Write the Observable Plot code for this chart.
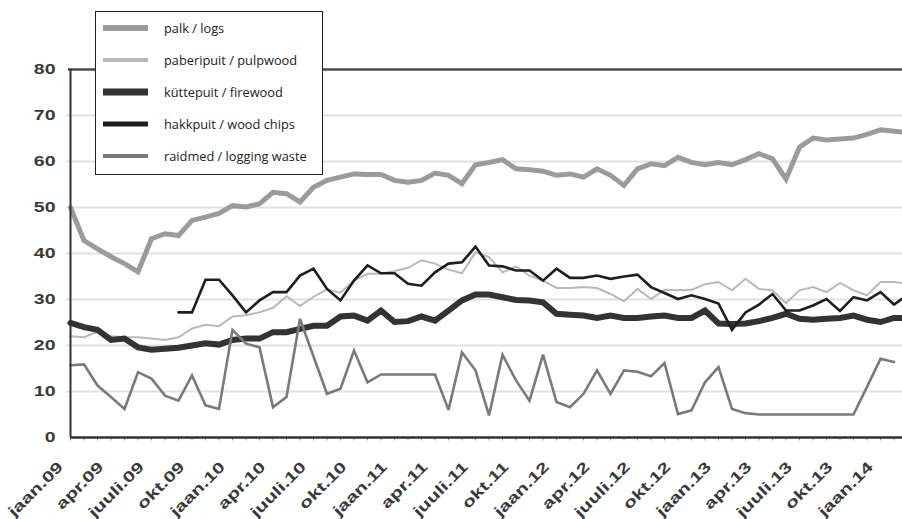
<!DOCTYPE html>
<html>
<head>
<meta charset="utf-8">
<script src="https://cdn.jsdelivr.net/npm/d3@7"></script>
<script src="https://cdn.jsdelivr.net/npm/@observablehq/plot@0.6"></script>
<style>
  html, body { margin: 0; padding: 0; background: #fff; overflow: hidden; }
  #chart { position: relative; width: 902px; height: 519px; }
  #chart svg { overflow: hidden; }
  .legend {
    position: absolute; left: 95px; top: 11px; width: 228px; height: 164px;
    box-sizing: border-box; border: 1px solid #222; background: #fff;
    font-family: "Open Sans", sans-serif; font-size: 12.8px; color: #222;
  }
  .legend .row { position: absolute; left: 0; height: 20px; display: flex; align-items: center; }
  .legend svg { margin-left: 7px; margin-right: 16px; }
</style>
</head>
<body>
<div id="chart"></div>
<script>
// Monthly index 0 = jaan.09 ... 62 = märts.14
const monthCount = 63;

// Price series (EUR per m³), one value per month
const palk = [50, 42.8, 41, 39.3, 37.8, 36, 43.2, 44.3, 43.9, 47.2, 47.9, 48.7,
  50.4, 50.1, 50.8, 53.3, 53, 51.2, 54.4, 55.9, 56.6, 57.3, 57.2, 57.2,
  55.9, 55.5, 55.9, 57.5, 57, 55.2, 59.3, 59.8, 60.4, 58.4, 58.2, 57.9,
  57, 57.3, 56.6, 58.4, 57, 54.8, 58.4, 59.5, 59.1, 60.9, 59.8, 59.3,
  59.8, 59.3, 60.4, 61.7, 60.6, 56.2, 63.1, 65.1, 64.7, 64.9, 65.1, 65.9,
  66.9, 66.6, 66.3];
const paberipuit = [22, 21.8, 23, 22, 21.8, 21.8, 21.5, 21.2, 21.8, 23.7, 24.5, 24.2,
  26.3, 26.6, 27.2, 28.2, 30.7, 28.6, 30.6, 32.2, 31.5, 34.1, 35.6, 35.6,
  36.2, 36.9, 38.5, 37.8, 36.5, 35.7, 40.3, 39.2, 35.9, 37.2, 35.2, 34.1,
  32.5, 32.5, 32.7, 32.5, 31.2, 29.6, 32.3, 30.1, 32.1, 32, 32.1, 33.3,
  33.8, 32, 34.5, 32.3, 32, 29.2, 32, 32.7, 31.6, 33.6, 32, 30.9,
  33.8, 33.8, 33.4];
const kyttepuit = [24.9, 24, 23.4, 21.2, 21.5, 19.6, 19.1, 19.3, 19.5, 20, 20.5, 20.2,
  21.2, 21.5, 21.5, 22.9, 22.9, 23.6, 24.3, 24.3, 26.3, 26.5, 25.4, 27.6,
  25.1, 25.3, 26.3, 25.4, 27.6, 29.8, 31.1, 31.1, 30.5, 29.9, 29.8, 29.4,
  26.9, 26.7, 26.5, 26, 26.5, 26, 26, 26.3, 26.5, 26, 26, 27.6,
  24.8, 24.7, 24.8, 25.3, 26, 26.9, 25.8, 25.6, 25.8, 26, 26.5, 25.6,
  25.1, 26, 26];
const hakkpuit = [null, null, null, null, null, null, null, null, 27.2, 27.2, 34.3, 34.3,
  30.9, 27.2, 29.8, 31.6, 31.6, 35.2, 36.7, 32.3, 29.8, 34.1, 37.4, 35.7,
  35.7, 33.4, 33, 35.9, 37.8, 38.1, 41.5, 37.4, 37.2, 36.3, 36.3, 34.1,
  36.7, 34.7, 34.7, 35.2, 34.5, 35, 35.4, 32.7, 31.4, 30.1, 30.9, 30.1,
  29.1, 23.4, 27.2, 28.9, 31.2, 27.6, 27.6, 28.7, 30.1, 27.5, 30.5, 29.8,
  31.6, 28.9, 31];
const raidmed = [15.7, 15.9, 11.3, 8.8, 6.2, 14.2, 12.8, 9.1, 8, 13.5, 7, 6.2,
  23.4, 20.4, 19.6, 6.6, 8.8, 25.8, 17.6, 9.5, 10.6, 18.9, 12, 13.7,
  13.7, 13.7, 13.7, 13.7, 6, 18.5, 14.6, 4.8, 18, 12.4, 8, 18,
  7.7, 6.6, 9.5, 14.6, 9.5, 14.6, 14.3, 13.3, 16.2, 5.1, 5.9, 12,
  15.3, 6.2, 5.3, 5, 5, 5, 5, 5, 5, 5, 5, 11,
  17.1, 16.4, null];

// Series names as shown in the legend
const seriesNames = ["palk / logs", "paberipuit / pulpwood", "küttepuit / firewood",
  "hakkpuit / wood chips", "raidmed / logging waste"];

// Axis ticks
const yTicks = [0, 10, 20, 30, 40, 50, 60, 70, 80];
const xTickMonths = [0, 3, 6, 9, 12, 15, 18, 21, 24, 27, 30, 33, 36, 39, 42, 45, 48, 51, 54, 57, 60];
const xTickLabels = ["jaan.09", "apr.09", "juuli.09", "okt.09", "jaan.10", "apr.10", "juuli.10",
  "okt.10", "jaan.11", "apr.11", "juuli.11", "okt.11", "jaan.12", "apr.12", "juuli.12",
  "okt.12", "jaan.13", "apr.13", "juuli.13", "okt.13", "jaan.14"];

// Line styles: chart stroke and legend swatch
const styles = [
  {stroke: "#9b9b9b", width: 5, swatch: 6},
  {stroke: "#b9b9b9", width: 2, swatch: 4},
  {stroke: "#333333", width: 6, swatch: 7},
  {stroke: "#1e1e1e", width: 2.6, swatch: 5},
  {stroke: "#7a7a7a", width: 2.6, swatch: 4}
];

const allValues = [palk, paberipuit, kyttepuit, hakkpuit, raidmed];
const series = allValues.map((vals, k) => ({
  name: seriesNames[k],
  rows: vals.map((v, i) => ({month: i, value: v}))
}));

const months = d3.range(monthCount);
const gridValues = yTicks.filter(d => d > 0 && d < 80);

const plot = Plot.plot({
  width: 902,
  height: 519,
  marginTop: 69,
  marginBottom: 82,
  marginLeft: 70,
  marginRight: 0,
  x: {domain: [0, monthCount - 1], range: [70, 907], axis: null},
  y: {domain: [0, 80], axis: null},
  style: {background: "#fff", fontFamily: "'Liberation Sans', Arial, sans-serif"},
  marks: [
    // horizontal gridlines, poking slightly left of the axis
    Plot.ruleY(gridValues, {y: d => d, x1: -0.3, x2: monthCount, stroke: "#e1e1e1", strokeWidth: 2}),
    // top border at 80
    Plot.ruleY([80], {x1: -0.15, x2: monthCount, stroke: "#4a4a4a", strokeWidth: 2.5}),
    // monthly tick marks under the baseline
    Plot.ruleX(months, {x: d => d, y1: 0, y2: -0.75, stroke: "#999", strokeWidth: 1}),
    // series lines
    ...series.map((s, k) => Plot.line(s.rows, {
      x: "month", y: "value",
      stroke: styles[k].stroke, strokeWidth: styles[k].width,
      strokeLinejoin: "miter", strokeMiterlimit: 3
    })),
    // axes lines
    Plot.ruleX([0], {y1: 0, y2: 80, stroke: "#333", strokeWidth: 2}),
    Plot.ruleY([0], {x1: 0, x2: monthCount, stroke: "#333", strokeWidth: 2.5}),
    // y tick labels
    Plot.text(yTicks, {
      x: 0, y: d => d, text: d => String(d), textAnchor: "end", dx: -15,
      fontSize: 15, fontWeight: "bold", fill: "#3a3a3a"
    }),
    // x tick labels
    Plot.text(xTickMonths, {
      x: d => d, y: 0, text: (d, i) => xTickLabels[i],
      rotate: -45, textAnchor: "end", dx: -10, dy: 27,
      fontSize: 15, fontWeight: "bold", fill: "#3a3a3a"
    })
  ]
});

const chart = document.getElementById("chart");
chart.appendChild(plot);

// axis labels are set wide: stretch each glyph run along its baseline
const stretch = [1.3, 1.38];
d3.select(plot).selectAll('g[aria-label="text"]').each(function (_, gi) {
  d3.select(this).selectAll("text").each(function () {
    const w = this.getComputedTextLength();
    this.setAttribute("textLength", (w * stretch[gi]).toFixed(1));
    this.setAttribute("lengthAdjust", "spacingAndGlyphs");
  });
});

// legend box overlaid on the plot area
const legend = document.createElement("div");
legend.className = "legend";
const rowCenters = [16, 48, 80, 112, 144];
series.forEach((s, k) => {
  const row = document.createElement("div");
  row.className = "row";
  row.style.top = (rowCenters[k] - 10) + "px";
  const sw = d3.create("svg").attr("width", 45).attr("height", 20);
  sw.append("line").attr("x1", 0).attr("x2", 45).attr("y1", 10).attr("y2", 10)
    .attr("stroke", styles[k].stroke).attr("stroke-width", styles[k].swatch);
  row.appendChild(sw.node());
  const label = document.createElement("span");
  label.textContent = s.name;
  row.appendChild(label);
  legend.appendChild(row);
});
chart.appendChild(legend);
</script>
</body>
</html>
